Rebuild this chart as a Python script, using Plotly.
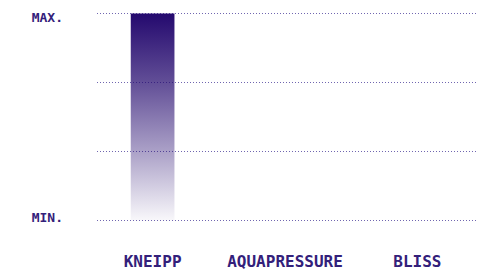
import plotly.graph_objects as go

categories = ["KNEIPP", "AQUAPRESSURE", "BLISS"]
values = [3, 0, 0]
grid_vals = [0, 1, 2, 3]
y_label_vals = [0.05, 2.94]
y_label_text = ["MIN.", "MAX."]

TEXT = "#33207a"
GRID = "#7066b0"
BAR_W = 0.33

fig = go.Figure()
for i, (cat, v) in enumerate(zip(categories, values)):
    if v <= 0:
        continue
    x0, x1 = i - BAR_W / 2, i + BAR_W / 2
    fig.add_trace(go.Scatter(
        x=[x0, x1, x1, x0, x0], y=[0, 0, v, v, 0],
        mode="lines", line=dict(width=0), fill="toself",
        fillgradient=dict(
            type="vertical", start=0, stop=v,
            colorscale=[[0, "rgba(36,9,110,0.03)"], [0.33, "rgba(36,9,110,0.38)"],
                        [0.67, "rgba(36,9,110,0.72)"], [1, "rgba(36,9,110,1)"]],
        ),
        hoverinfo="skip", showlegend=False,
    ))

fig.update_layout(
    width=477, height=264,
    margin=dict(l=89, r=8, t=2, b=48, autoexpand=False),
    paper_bgcolor="white", plot_bgcolor="white",
    font=dict(family="DejaVu Sans Mono", color=TEXT, weight="bold"),
    showlegend=False,
)
fig.update_xaxes(
    range=[-0.42, 2.45], tickvals=list(range(len(categories))), ticktext=categories,
    showgrid=False, zeroline=False, showline=False, ticks="", automargin=False,
    tickfont=dict(size=16, family="DejaVu Sans Mono", color=TEXT, weight="bold"),
    ticklabelstandoff=26,
)
fig.update_yaxes(
    range=[-0.05, 3.05], tickvals=y_label_vals, ticktext=y_label_text,
    showgrid=False, zeroline=False, showline=False, ticks="", automargin=False,
    ticklabeloverflow="allow",
    minor=dict(tickvals=grid_vals, showgrid=True, gridcolor=GRID,
               griddash="1px,2px", gridwidth=1, ticks=""),
    tickfont=dict(size=13, family="DejaVu Sans Mono", color=TEXT, weight="bold"),
    ticklabelstandoff=33,
)
fig.write_html("out.html")
